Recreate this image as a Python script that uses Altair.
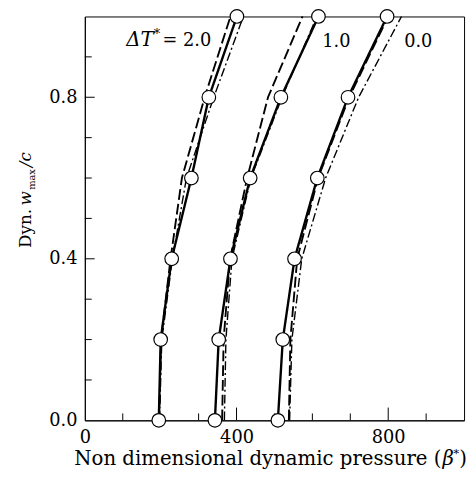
import altair as alt
import pandas as pd

# ---------------- data ----------------
w_levels = [0.0, 0.2, 0.4, 0.6, 0.8, 1.0]

# Delta T* = 2.0
dt20_solid = [195, 200, 229, 281, 327, 401]
dt20_dash = [196, 201, 226, 256, 316, 384]
dt20_dashdot = [197, 203, 231, 268, 340, 418]
# Delta T* = 1.0
dt10_solid = [343, 353, 384, 436, 517, 616]
dt10_dash = [362, 366, 383, 428, 483, 574]
dt10_dashdot = [368, 372, 388, 438, 520, 612]
# Delta T* = 0.0
dt00_solid = [509, 522, 553, 613, 694, 797]
dt00_dash = [538, 542, 560, 615, 697, 800]
dt00_dashdot = [540, 546, 572, 635, 722, 835]

x_major = [0, 400, 800]
x_minor_ticks = [100, 200, 300, 500, 600, 700, 900]
x_major_ticks = [400, 800]
y_major = [0.0, 0.4, 0.8]
y_minor_ticks = [0.1, 0.2, 0.3, 0.5, 0.6, 0.7, 0.9]
y_major_ticks = [0.4, 0.8]

series = {
    ("2.0", "solid"): dt20_solid, ("2.0", "dash"): dt20_dash, ("2.0", "dashdot"): dt20_dashdot,
    ("1.0", "solid"): dt10_solid, ("1.0", "dash"): dt10_dash, ("1.0", "dashdot"): dt10_dashdot,
    ("0.0", "solid"): dt00_solid, ("0.0", "dash"): dt00_dash, ("0.0", "dashdot"): dt00_dashdot,
}
rows = []
for (g, s), xs_ in series.items():
    for xv, wv in zip(xs_, w_levels):
        rows.append({"beta": xv, "w": wv, "grp": g, "style": s, "key": g + s})
df = pd.DataFrame(rows)

W, H = 385, 410
FONT = "DejaVu Serif"
xs = alt.Scale(domain=[0, 1000], nice=False)
ys = alt.Scale(domain=[0, 1.0], nice=False)

base = alt.Chart(df)

lines = base.mark_line(color="black").encode(
    x=alt.X("beta:Q", scale=xs,
            axis=alt.Axis(values=x_major, ticks=False, tickSize=0, grid=False, title=None,
                          labelFont=FONT, labelFontSize=18, labelPadding=8,
                          domainColor="black", labelColor="black", labelFlush=False)),
    y=alt.Y("w:Q", scale=ys,
            axis=alt.Axis(values=y_major, ticks=False, tickSize=0, grid=False, title=None, format=".1f",
                          labelFont=FONT, labelFontSize=18, labelPadding=8,
                          domainColor="black", labelColor="black", labelFlush=False)),
    detail="key:N",
    order="w:Q",
    strokeDash=alt.StrokeDash("style:N", legend=None,
                              scale=alt.Scale(domain=["solid", "dash", "dashdot"],
                                              range=[[1, 0], [11, 4], [9, 3, 2, 3]])),
    strokeWidth=alt.StrokeWidth("style:N", legend=None,
                                scale=alt.Scale(domain=["solid", "dash", "dashdot"],
                                                range=[2.4, 1.4, 1.4])),
)

points = alt.Chart(df[df["style"] == "solid"]).mark_point(
    shape="circle", filled=True, fill="white", stroke="black", strokeWidth=1.2, size=190, opacity=1
).encode(x=alt.X("beta:Q", scale=xs), y=alt.Y("w:Q", scale=ys))

# inward ticks
xt_minor = alt.Chart(pd.DataFrame({"v": x_minor_ticks})).mark_rule(color="black", strokeWidth=1).encode(
    x=alt.X("v:Q", scale=xs), y=alt.value(H), y2=alt.value(H - 7))
xt_major = alt.Chart(pd.DataFrame({"v": x_major_ticks})).mark_rule(color="black", strokeWidth=1).encode(
    x=alt.X("v:Q", scale=xs), y=alt.value(H), y2=alt.value(H - 13))
yt_minor = alt.Chart(pd.DataFrame({"v": y_minor_ticks})).mark_rule(color="black", strokeWidth=1).encode(
    y=alt.Y("v:Q", scale=ys), x=alt.value(0), x2=alt.value(7))
yt_major = alt.Chart(pd.DataFrame({"v": y_major_ticks})).mark_rule(color="black", strokeWidth=1).encode(
    y=alt.Y("v:Q", scale=ys), x=alt.value(0), x2=alt.value(10))


def txt(text, x, y, size=18, italic=False, align="left", angle=None, baseline="alphabetic"):
    kw = dict(text=text, font=FONT, fontSize=size, color="black", align=align, baseline=baseline)
    if italic:
        kw["fontStyle"] = "italic"
    if angle is not None:
        kw["angle"] = angle
    return alt.Chart(pd.DataFrame({"a": [0]})).mark_text(**kw).encode(x=x, y=y)


annos = [
    # curve labels (data coordinates)
    txt("ΔT", alt.X(datum=109, scale=xs), alt.Y(datum=0.9276, scale=ys), size=20, italic=True),
    txt("*", alt.X(datum=182, scale=xs), alt.Y(datum=0.946, scale=ys), size=13),
    txt("= 2.0", alt.X(datum=205, scale=xs), alt.Y(datum=0.9276, scale=ys)),
    txt("1.0", alt.X(datum=626, scale=xs), alt.Y(datum=0.924, scale=ys)),
    txt("0.0", alt.X(datum=842, scale=xs), alt.Y(datum=0.924, scale=ys)),
    # x axis title
    txt("Non dimensional dynamic pressure (", alt.value(362), alt.value(455), size=20, align="right"),
    txt("β", alt.value(363), alt.value(455), size=20, italic=True),
    txt("*", alt.value(374), alt.value(447), size=12),
    txt(")", alt.value(380), alt.value(455), size=20),
    # y axis title (rotated)
    txt("Dyn.", alt.value(-55), alt.value(235), size=17, angle=270),
    txt("w", alt.value(-55), alt.value(192), size=17, angle=270, italic=True),
    txt("max", alt.value(-51), alt.value(176), size=10, angle=270),
    txt("/c", alt.value(-55), alt.value(153), size=17, angle=270, italic=True),
]

chart = alt.layer(xt_minor, xt_major, yt_minor, yt_major, lines, points, *annos).properties(
    width=W, height=H,
    autosize=alt.AutoSizeParams(type="none"),
    padding={"left": 78, "top": 5, "right": 4, "bottom": 60},
).configure_view(stroke="black", strokeWidth=1).configure_axis(domainWidth=1)

chart.save("out.html", embed_options={"renderer": "svg", "actions": False})
